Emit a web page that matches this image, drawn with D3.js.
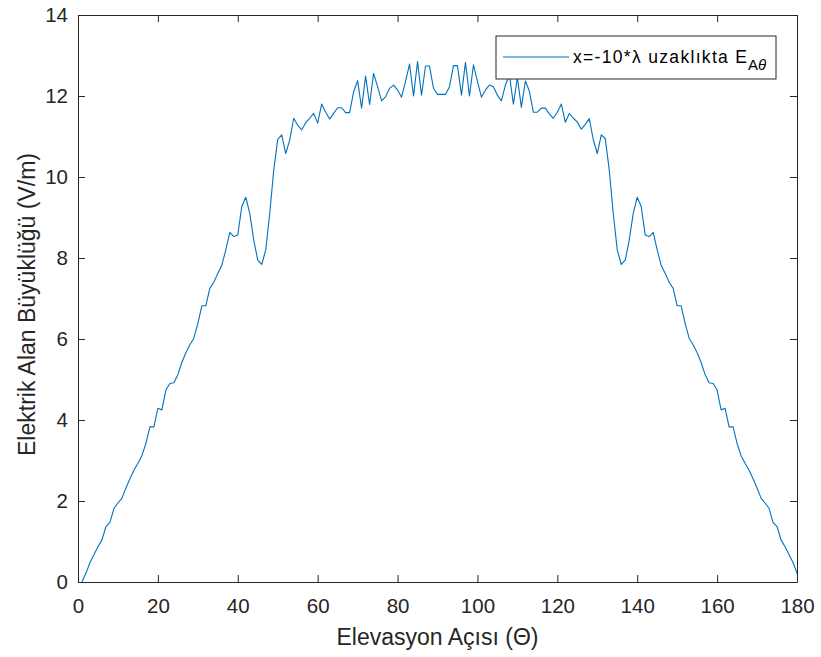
<!doctype html>
<html lang="tr">
<head>
<meta charset="utf-8">
<title>Elektrik Alan</title>
<script src="https://d3js.org/d3.v7.min.js"></script>
<style>
  html, body { margin: 0; padding: 0; background: #fff; }
  svg { display: block; font-family: "Liberation Sans", Arial, Helvetica, sans-serif; }
</style>
</head>
<body>
<div id="chart"></div>
<script>
// angle values (degrees), one sample per degree
var angles = d3.range(1, 182);
// field magnitude E_Atheta (V/m), for angles 1..181
var fieldValues = [
  0.00, 0.22, 0.48, 0.68, 0.87, 1.04, 1.37, 1.47, 1.82, 1.95,
  2.07, 2.32, 2.55, 2.76, 2.93, 3.12, 3.42, 3.83, 3.83, 4.29,
  4.25, 4.74, 4.90, 4.92, 5.12, 5.42, 5.66, 5.86, 6.02, 6.38,
  6.82, 6.82, 7.25, 7.40, 7.62, 7.82, 8.20, 8.63, 8.53, 8.57,
  9.27, 9.50, 9.10, 8.44, 7.95, 7.84, 8.20, 9.10, 10.17, 10.93,
  11.04, 10.58, 10.91, 11.45, 11.28, 11.16, 11.34, 11.45, 11.57, 11.33,
  11.80, 11.60, 11.43, 11.57, 11.71, 11.71, 11.59, 11.59, 12.10, 12.38,
  11.70, 12.49, 11.79, 12.56, 12.23, 11.88, 11.98, 12.19, 12.27, 12.15,
  11.97, 12.36, 12.79, 12.00, 12.85, 12.02, 12.74, 12.74, 12.19, 12.04,
  12.04, 12.04, 12.23, 12.75, 12.75, 12.02, 12.83, 12.00, 12.77, 12.36,
  11.97, 12.15, 12.27, 12.23, 12.02, 11.88, 12.27, 12.52, 11.80, 12.45,
  11.72, 12.37, 12.12, 11.60, 11.60, 11.70, 11.70, 11.56, 11.45, 11.60,
  11.80, 11.35, 11.57, 11.45, 11.36, 11.18, 11.30, 11.44, 10.92, 10.58,
  11.04, 10.95, 10.17, 9.10, 8.20, 7.84, 7.95, 8.44, 9.10, 9.50,
  9.27, 8.57, 8.53, 8.63, 8.20, 7.82, 7.62, 7.40, 7.25, 6.82,
  6.82, 6.38, 6.02, 5.86, 5.66, 5.42, 5.12, 4.92, 4.90, 4.74,
  4.25, 4.29, 3.83, 3.83, 3.42, 3.12, 2.93, 2.76, 2.55, 2.32,
  2.07, 1.95, 1.82, 1.47, 1.37, 1.04, 0.87, 0.68, 0.48, 0.22,
  0.00
];
var xTicks = [0, 20, 40, 60, 80, 100, 120, 140, 160, 180];
var yTicks = [0, 2, 4, 6, 8, 10, 12, 14];
var xLabel = "Elevasyon Açısı (Θ)";
var yLabel = "Elektrik Alan Büyüklüğü (V/m)";

var W = 821, H = 657;
var margin = {top: 15, right: 24, bottom: 75, left: 78};
var width = W - margin.left - margin.right,
    height = H - margin.top - margin.bottom;

var axisColor = "#262626";

var svg = d3.select("#chart").append("svg")
  .attr("width", W)
  .attr("height", H);

var g = svg.append("g")
  .attr("transform", "translate(" + margin.left + "," + margin.top + ")");

var x = d3.scaleLinear().domain([0, 180]).range([0, width]);
var y = d3.scaleLinear().domain([0, 14]).range([height, 0]);

// clip so the line stops at the axes box like matlab does
svg.append("defs").append("clipPath").attr("id", "plotclip")
  .append("rect").attr("width", width).attr("height", height);

var data = angles.map(function(a, i) { return {a: a, v: fieldValues[i]}; });

var line = d3.line()
  .x(function(d) { return x(d.a); })
  .y(function(d) { return y(d.v); });

g.append("path")
  .datum(data)
  .attr("clip-path", "url(#plotclip)")
  .attr("fill", "none")
  .attr("stroke", "#0072BD")
  .attr("stroke-width", 1.1)
  .attr("stroke-linejoin", "round")
  .attr("d", line);

// axes: ticks on all four sides, pointing inward
var tickLen = 7;
function styleAxis(sel) {
  sel.select(".domain").attr("stroke", axisColor).attr("stroke-width", 1);
  sel.selectAll(".tick line").attr("stroke", axisColor).attr("stroke-width", 1);
  sel.selectAll(".tick text")
    .attr("fill", axisColor)
    .style("font-size", "20.5px");
}

g.append("g")
  .attr("transform", "translate(0," + height + ")")
  .call(d3.axisBottom(x).tickValues(xTicks).tickSizeInner(-tickLen).tickSizeOuter(0).tickPadding(16))
  .call(styleAxis);

g.append("g")
  .call(d3.axisTop(x).tickValues(xTicks).tickSizeInner(-tickLen).tickSizeOuter(0).tickFormat(""))
  .call(styleAxis);

g.append("g")
  .call(d3.axisLeft(y).tickValues(yTicks).tickSizeInner(-tickLen).tickSizeOuter(0).tickPadding(10))
  .call(styleAxis);

g.append("g")
  .attr("transform", "translate(" + width + ",0)")
  .call(d3.axisRight(y).tickValues(yTicks).tickSizeInner(-tickLen).tickSizeOuter(0).tickFormat(""))
  .call(styleAxis);

g.selectAll(".domain").attr("fill", "none");

// axis labels
g.append("text")
  .attr("x", width / 2)
  .attr("y", height + 63)
  .attr("text-anchor", "middle")
  .attr("fill", axisColor)
  .style("font-size", "23px")
  .text(xLabel);

g.append("text")
  .attr("transform", "translate(" + (-43) + "," + (height / 2 + 6) + ") rotate(-90)")
  .attr("text-anchor", "middle")
  .attr("fill", axisColor)
  .style("font-size", "23px")
  .text(yLabel);

// legend
var legend = svg.append("g").attr("transform", "translate(496,36)");
legend.append("rect")
  .attr("width", 280)
  .attr("height", 43)
  .attr("fill", "#fff")
  .attr("stroke", axisColor)
  .attr("stroke-width", 1);
legend.append("line")
  .attr("x1", 7).attr("x2", 73)
  .attr("y1", 21).attr("y2", 21)
  .attr("stroke", "#0072BD")
  .attr("stroke-width", 1.1);
var lt = legend.append("text")
  .attr("y", 26.5)
  .attr("fill", "#000")
  .style("font-size", "17.5px");
lt.append("tspan")
  .attr("x", 77)
  .attr("textLength", 174)
  .attr("lengthAdjust", "spacing")
  .text("x=-10*λ uzaklıkta E");
lt.append("tspan").attr("x", 252).attr("dy", 7.5).style("font-size", "15px").text("A");
lt.append("tspan").style("font-size", "15px").style("font-style", "italic").text("θ");
</script>
</body>
</html>
